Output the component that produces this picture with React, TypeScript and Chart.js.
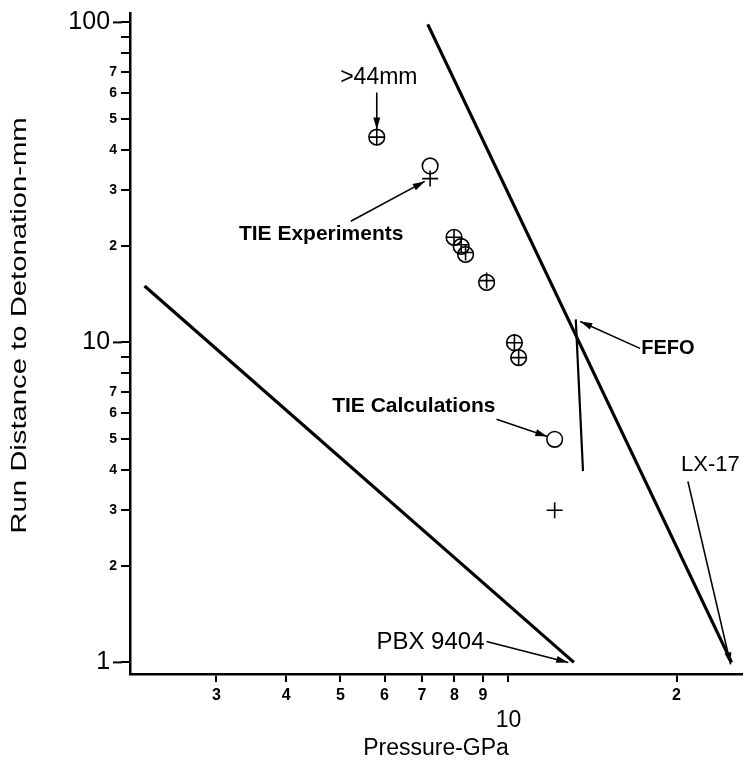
import React, { useEffect, useRef } from 'react';
import { Chart, registerables } from 'chart.js';

Chart.register(...registerables);

// ---- Data (log-log axes) ----
const pbxX = [2.23, 13.1];
const pbxY = [15, 1];
const lx17X = [7.17, 25.1];
const lx17Y = [98.6, 1];
const fefoX = [13.2, 13.6];
const fefoY = [11.8, 3.96];

// TIE Calculations (open circles)
const calcX = [5.81, 7.24, 7.99, 8.23, 8.38, 9.14, 10.25, 10.43, 12.1];
const calcY = [43.8, 35.6, 21.3, 19.95, 18.84, 15.4, 9.98, 8.96, 4.98];
// TIE Experiments (plus signs)
const expX = [5.81, 7.24, 7.99, 8.23, 8.38, 9.14, 10.25, 10.43, 12.1];
const expY = [43.8, 32.5, 21.3, 20.2, 19.1, 15.6, 9.98, 8.96, 2.99];

const xTickValues = [3, 4, 5, 6, 7, 8, 9, 10, 20];
const xTickLabels = ['3', '4', '5', '6', '7', '8', '9', '10', '2'];
const yTickValues = [1, 2, 3, 4, 5, 6, 7, 8, 9, 10, 20, 30, 40, 50, 60, 70, 80, 90, 100];
const yTickLabels = ['1', '2', '3', '4', '5', '6', '7', '', '', '10', '2', '3', '4', '5', '6', '7', '', '', '100'];
const bigYTicks = [1, 10, 100];
const bigXTicks = [10];

const xTitle = 'Pressure-GPa';
const yTitle = 'Run Distance to Detonation-mm';

// Annotation texts and arrow anchors (in data coordinates)
const noteTexts = ['>44mm', 'TIE Experiments', 'TIE Calculations', 'FEFO', 'LX-17', 'PBX 9404'];
const noteAt = [[5.86, 67.3], [4.62, 21.75], [6.77, 6.31], [19.3, 9.58], [23.0, 4.13], [9.06, 1.155]];
const noteFrom = [[5.81, 60.4], [5.22, 23.9], [9.52, 5.75], [17.2, 9.58], [20.96, 3.68], [9.135, 1.163]];
const noteTo = [[5.81, 46.3], [7.08, 31.85], [11.74, 5.085], [13.45, 11.63], [25.0, 0.986], [12.8, 1.0]];

const FONT = "'Liberation Sans', Arial, Helvetica, sans-serif";

const toPts = (xs: number[], ys: number[]) => xs.map((x, i) => ({ x, y: ys[i] }));

const annotationPlugin = {
  id: 'annots',
  afterDatasetsDraw(chart: any) {
    const { ctx, scales, chartArea } = chart;
    const xs = scales.x;
    const ys = scales.y;
    const styles = [
      { font: `23px ${FONT}`, align: 'center' },
      { font: `bold 21px ${FONT}`, align: 'center' },
      { font: `bold 21px ${FONT}`, align: 'center' },
      { font: `bold 20px ${FONT}`, align: 'center' },
      { font: `22px ${FONT}`, align: 'center' },
      { font: `24px ${FONT}`, align: 'right' },
    ];
    ctx.save();
    noteTexts.forEach((t, i) => {
      const st = styles[i];
      ctx.fillStyle = '#000';
      ctx.font = st.font;
      ctx.textAlign = st.align;
      ctx.textBaseline = 'middle';
      ctx.fillText(t, xs.getPixelForValue(noteAt[i][0]), ys.getPixelForValue(noteAt[i][1]));
      const x1 = xs.getPixelForValue(noteFrom[i][0]);
      const y1 = ys.getPixelForValue(noteFrom[i][1]);
      const x2 = xs.getPixelForValue(noteTo[i][0]);
      const y2 = ys.getPixelForValue(noteTo[i][1]);
      ctx.strokeStyle = '#000';
      ctx.lineWidth = 1.6;
      ctx.beginPath();
      ctx.moveTo(x1, y1);
      ctx.lineTo(x2, y2);
      ctx.stroke();
      const ang = Math.atan2(y2 - y1, x2 - x1);
      const len = 12;
      const half = 3.5;
      ctx.beginPath();
      ctx.moveTo(x2, y2);
      ctx.lineTo(x2 - len * Math.cos(ang) + half * Math.sin(ang), y2 - len * Math.sin(ang) - half * Math.cos(ang));
      ctx.lineTo(x2 - len * Math.cos(ang) - half * Math.sin(ang), y2 - len * Math.sin(ang) + half * Math.cos(ang));
      ctx.closePath();
      ctx.fill();
    });

    // longer tick marks for the decade values on the y axis
    ctx.lineWidth = 2;
    bigYTicks.forEach((v) => {
      const py = ys.getPixelForValue(v);
      ctx.beginPath();
      ctx.moveTo(chartArea.left - 17, py);
      ctx.lineTo(chartArea.left - 8, py);
      ctx.stroke();
    });

    // axis titles (stretched lettering like the reference)
    ctx.fillStyle = '#000';
    ctx.textAlign = 'center';
    ctx.textBaseline = 'middle';
    ctx.font = `23px ${FONT}`;
    ctx.fillText(xTitle, (chartArea.left + chartArea.right) / 2, chartArea.bottom + 75);

    ctx.translate(20, (chartArea.top + chartArea.bottom) / 2 - 18);
    ctx.rotate(-Math.PI / 2);
    ctx.scale(1.33, 1);
    ctx.font = `22px ${FONT}`;
    ctx.fillText(yTitle, 0, 0);
    ctx.restore();
  },
};

export default function App() {
  const canvasRef = useRef<HTMLCanvasElement | null>(null);

  useEffect(() => {
    if (!canvasRef.current) return;
    const chart = new Chart(canvasRef.current, {
      type: 'scatter',
      data: {
        datasets: [
          {
            label: 'PBX 9404',
            data: toPts(pbxX, pbxY),
            showLine: true,
            borderColor: '#000',
            borderWidth: 3.2,
            pointRadius: 0,
          },
          {
            label: 'LX-17',
            data: toPts(lx17X, lx17Y),
            showLine: true,
            borderColor: '#000',
            borderWidth: 3.2,
            pointRadius: 0,
          },
          {
            label: 'FEFO',
            data: toPts(fefoX, fefoY),
            showLine: true,
            borderColor: '#000',
            borderWidth: 2.2,
            pointRadius: 0,
          },
          {
            label: 'TIE Calculations',
            data: toPts(calcX, calcY),
            showLine: false,
            pointStyle: 'circle',
            pointRadius: 7.8,
            pointBorderWidth: 1.6,
            pointBorderColor: '#000',
            pointBackgroundColor: 'rgba(0,0,0,0)',
          },
          {
            label: 'TIE Experiments',
            data: toPts(expX, expY),
            showLine: false,
            pointStyle: 'cross',
            pointRadius: 8,
            pointBorderWidth: 1.6,
            pointBorderColor: '#000',
            pointBackgroundColor: '#000',
          },
        ],
      },
      options: {
        animation: false,
        responsive: true,
        maintainAspectRatio: false,
        layout: { padding: { top: 13, right: 12, left: 0, bottom: 0 } },
        plugins: {
          legend: { display: false },
          tooltip: { enabled: false },
        },
        scales: {
          x: {
            type: 'logarithmic',
            min: 2.1,
            max: 26.2,
            border: { display: true, color: '#000', width: 2.5 },
            grid: { display: true, drawOnChartArea: false, drawTicks: true, tickLength: 8, color: '#000', lineWidth: 2 },
            afterBuildTicks: (scale: any) => {
              scale.ticks = xTickValues.map((v) => ({ value: v }));
            },
            afterFit: (scale: any) => {
              scale.height = 94;
              scale.paddingLeft = 0;
              scale.paddingRight = 0;
            },
            ticks: {
              autoSkip: false,
              maxRotation: 0,
              minRotation: 0,
              padding: 4,
              color: '#000',
              callback: (value: any) => {
                const i = xTickValues.indexOf(Number(value));
                if (i < 0) return '';
                return bigXTicks.includes(xTickValues[i]) ? ['', xTickLabels[i]] : xTickLabels[i];
              },
              font: (ctx: any) => {
                const v = ctx.tick ? ctx.tick.value : 0;
                return bigXTicks.includes(v)
                  ? { family: FONT, size: 23, lineHeight: 1.0 }
                  : { family: FONT, size: 16, weight: 'bold', lineHeight: 1.2 };
              },
            },
            title: { display: false },
          },
          y: {
            type: 'logarithmic',
            min: 0.92,
            max: 107,
            border: { display: true, color: '#000', width: 2.5 },
            grid: { display: true, drawOnChartArea: false, drawTicks: true, tickLength: 9, color: '#000', lineWidth: 2 },
            afterBuildTicks: (scale: any) => {
              scale.ticks = yTickValues.map((v) => ({ value: v }));
            },
            afterFit: (scale: any) => {
              scale.width = 130;
              scale.paddingTop = 0;
              scale.paddingBottom = 0;
            },
            ticks: {
              autoSkip: false,
              padding: 4,
              color: '#000',
              callback: (value: any) => {
                const i = yTickValues.indexOf(Number(value));
                if (i < 0) return '';
                return bigYTicks.includes(yTickValues[i]) ? yTickLabels[i] + ' ' : yTickLabels[i];
              },
              font: (ctx: any) => {
                const v = ctx.tick ? ctx.tick.value : 0;
                return bigYTicks.includes(v)
                  ? { family: FONT, size: 25 }
                  : { family: FONT, size: 14, weight: 'bold' };
              },
            },
            title: { display: false },
          },
        },
      },
      plugins: [annotationPlugin],
    } as any);
    return () => chart.destroy();
  }, []);

  return (
    <div style={{ position: 'absolute', left: 0, top: 0, width: 754, height: 768, background: '#fff' }}>
      <canvas ref={canvasRef} />
    </div>
  );
}
